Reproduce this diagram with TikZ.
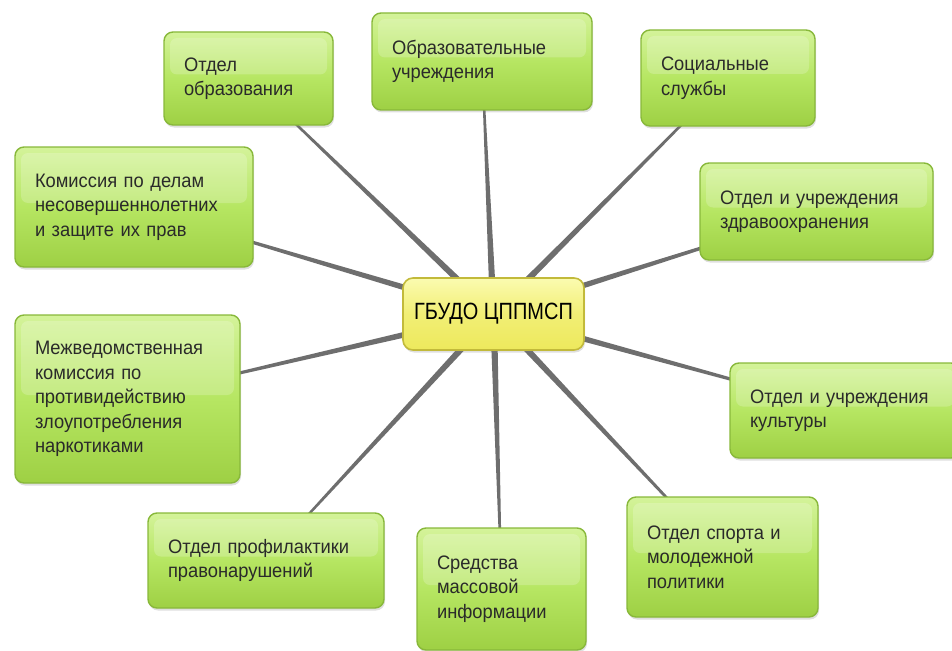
\documentclass[tikz,border=0pt]{standalone}
\usepackage{fontspec}
\setmainfont{Liberation Sans}[FakeStretch=0.94]
\newfontfamily\hubfont{Liberation Sans}[FakeStretch=0.85]
\usetikzlibrary{calc,shadows,backgrounds}
\definecolor{boxtop}{HTML}{D4F39A}
\definecolor{boxmid}{HTML}{B6E662}
\definecolor{boxbot}{HTML}{9ED044}
\definecolor{boxline}{HTML}{88B83A}
\definecolor{hubtop}{HTML}{FBFBB0}
\definecolor{hubbot}{HTML}{EDE95C}
\definecolor{hubline}{HTML}{C2BA3A}
\definecolor{spokecol}{HTML}{6E6E6E}
\definecolor{txt}{HTML}{2A2A2A}

\begin{document}
\begin{tikzpicture}[x=1pt, y=-1pt,
    box/.style = {draw=boxline, line width=1.4pt, rounded corners=9pt,
      top color=boxtop, bottom color=boxbot, middle color=boxmid,
      drop shadow={opacity=0.25, shadow xshift=1pt, shadow yshift=-2.5pt},
      align=left, inner xsep=20pt, text=txt, font=\fontsize{19.5}{24.5}\selectfont,
      path picture={\fill[white, opacity=0.2, rounded corners=7pt]
        ($(path picture bounding box.north west)+(6pt,-6pt)$) rectangle
        ($(path picture bounding box.east)+(-6pt,4pt)$);}},
    hub/.style = {draw=hubline, line width=1.6pt, rounded corners=10pt,
      top color=hubtop, bottom color=hubbot, middle color=hubbot!70!hubtop,
      drop shadow={opacity=0.25, shadow xshift=1pt, shadow yshift=-2.5pt},
      font=\hubfont\fontsize{23.5}{28}\selectfont, minimum width=181pt, minimum height=72pt},
    spoke/.style = {fill=spokecol}]
  \path[use as bounding box, clip] (0,0) rectangle (952,650);

  \node[hub] (cppms) at (493.5,314) {ГБУДО ЦППМСП};
  \node[box, text width=129pt, minimum height=93pt] (otdel) at (248.5,78.5) {Отдел\\образования};
  \node[box, text width=180pt, minimum height=97pt] (uchr) at (482,61.5) {Образовательные\\учреждения};
  \node[box, text width=134pt, minimum height=96pt] (soc) at (728,78) {Социальные\\службы};
  \node[box, text width=198pt, minimum height=120pt] (kdn) at (134,207) {Комиссия по делам\\несовершеннолетних\\и защите их прав};
  \node[box, text width=193pt, minimum height=97pt] (zdrav) at (816.5,211.5) {Отдел и учреждения\\здравоохранения};
  \node[box, text width=185pt, minimum height=168pt] (mvk) at (127.5,399) {Межведомственная\\комиссия по\\противидействию\\злоупотребления\\наркотиками};
  \node[box, text width=190pt, minimum height=95pt] (kult) at (845,410.5) {Отдел и учреждения\\культуры};
  \node[box, text width=196pt, minimum height=95pt] (prof) at (266,560.5) {Отдел профилактики\\правонарушений};
  \node[box, text width=129pt, minimum height=122pt] (smi) at (501.5,589) {Средства\\массовой\\информации};
  \node[box, text width=151pt, minimum height=120pt] (sport) at (722.5,557) {Отдел спорта и\\молодежной\\политики};

  \begin{scope}[on background layer]
    \foreach \n in {otdel,uchr,soc,kdn,zdrav,mvk,kult,prof,smi,sport}
      \fill[spoke] ($(cppms.center)!3.5pt!90:(\n.center)$) -- ($(\n.center)!0.7pt!-90:(cppms.center)$)
        -- ($(\n.center)!0.7pt!90:(cppms.center)$) -- ($(cppms.center)!3.5pt!-90:(\n.center)$) -- cycle;
  \end{scope}
\end{tikzpicture}
\end{document}
